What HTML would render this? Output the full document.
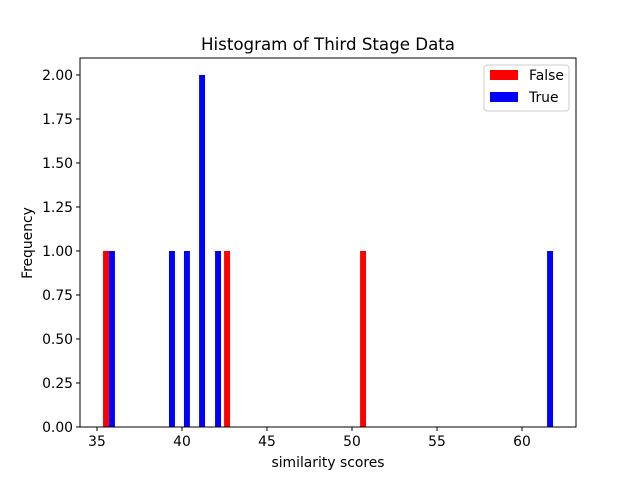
<!DOCTYPE html>
<html><head><meta charset="utf-8"><style>
body{margin:0;background:#fff;}
svg{font-family:"DejaVu Sans","Liberation Sans",sans-serif;}
</style></head><body>
<svg id="c" width="640" height="480"></svg>
<script>
const falseCenters=[35.53,42.65,50.65];
const falseCounts=[1,1,1];
const trueCenters=[35.88,39.41,40.29,41.18,42.12,61.65];
const trueCounts=[1,1,1,2,1,1];
const xTicks=[35,40,45,50,55,60];
const yTicks=[0,0.25,0.5,0.75,1.0,1.25,1.5,1.75,2.0];
const barW=0.35;
const L=80,R=576,T=58,B=427;
const xs=v=>-498+v*17;
const ys=v=>427-v*176;
const svg=document.getElementById('c');
const NS='http://www.w3.org/2000/svg';
function mk(t,a,txt){const e=document.createElementNS(NS,t);for(const k in a)e.setAttribute(k,a[k]);if(txt!=null)e.textContent=txt;svg.appendChild(e);return e;}
function bars(c,n,col,name){c.forEach((v,i)=>{const e=mk('rect',{x:xs(v-barW/2),y:ys(n[i]),width:barW*17,height:ys(0)-ys(n[i]),fill:col});

});}
bars(falseCenters,falseCounts,'#ff0000','false');
bars(trueCenters,trueCounts,'#0000ff','true');
const f=mk('rect',{x:L,y:T,width:R-L,height:B-T,fill:'none',stroke:'#000','stroke-width':1});


xTicks.forEach(v=>{mk('line',{x1:xs(v),x2:xs(v),y1:B,y2:B+4,stroke:'#000'});
const t=mk('text',{x:xs(v),y:B+19,'text-anchor':'middle','font-size':13.9},String(v));

});
yTicks.forEach(v=>{mk('line',{x1:L-4,x2:L,y1:ys(v),y2:ys(v),stroke:'#000'});
const t=mk('text',{x:L-7,y:ys(v)+5,'text-anchor':'end','font-size':13.9},v.toFixed(2));

});
let t=mk('text',{x:328,y:50,'text-anchor':'middle','font-size':16.67},'Histogram of Third Stage Data');


t=mk('text',{x:328,y:467,'text-anchor':'middle','font-size':13.9},'similarity scores');


t=mk('text',{x:32,y:243,'text-anchor':'middle','font-size':13.9,transform:'rotate(-90 32 243)'},'Frequency');


const lg=mk('rect',{x:484,y:65,width:85,height:46,fill:'#fff',stroke:'#ccc',rx:3});


mk('rect',{x:490,y:70,width:28,height:10,fill:'#ff0000'});
t=mk('text',{x:529,y:80,'font-size':13.9},'False');


mk('rect',{x:490,y:92,width:28,height:10,fill:'#0000ff'});
t=mk('text',{x:529,y:102,'font-size':13.9},'True');


</script>
</body></html>
